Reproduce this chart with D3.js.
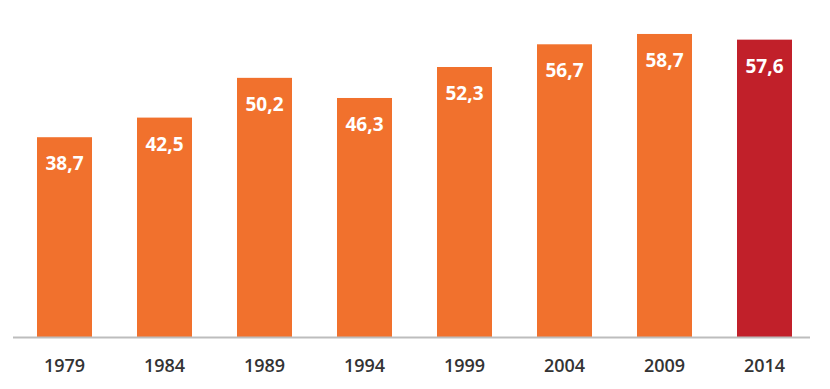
<!DOCTYPE html>
<html>
<head>
<meta charset="utf-8">
<script src="https://cdn.jsdelivr.net/npm/d3@7"></script>
<style>
  html, body { margin: 0; padding: 0; background: #fff; }
  svg { display: block; }
</style>
</head>
<body>
<svg id="chart" width="830" height="389"></svg>
<script>
const years = ["1979", "1984", "1989", "1994", "1999", "2004", "2009", "2014"];
const values = [38.7, 42.5, 50.2, 46.3, 52.3, 56.7, 58.7, 57.6];
const valueLabels = ["38,7", "42,5", "50,2", "46,3", "52,3", "56,7", "58,7", "57,6"];
const highlightYear = "2014";

const svg = d3.select("#chart");
const baseline = 337;

const x = d3.scaleBand()
  .domain(years)
  .range([14.5, 814.5])
  .paddingInner(0.45)
  .paddingOuter(0.225);

const y = d3.scaleLinear()
  .domain([0, 65.28])
  .range([baseline, 0]);

const data = years.map((yr, i) => ({ year: yr, value: values[i], label: valueLabels[i] }));

svg.selectAll("rect.bar")
  .data(data)
  .enter().append("rect")
  .attr("class", "bar")
  .attr("x", d => x(d.year))
  .attr("y", d => y(d.value))
  .attr("width", x.bandwidth())
  .attr("height", d => y(0) - y(d.value))
  .attr("fill", d => d.year === highlightYear ? "#C1202A" : "#F1712D");

svg.selectAll("text.val")
  .data(data)
  .enter().append("text")
  .attr("class", "val")
  .attr("x", d => x(d.year) + x.bandwidth() / 2)
  .attr("y", d => y(d.value) + 33)
  .attr("text-anchor", "middle")
  .attr("fill", "#fff")
  .style("font-family", "'Open Sans', sans-serif")
  .style("font-weight", "700")
  .style("font-size", "19px")
  .text(d => d.label);

const axis = d3.axisBottom(x).tickSize(0).tickPadding(22);
const g = svg.append("g")
  .attr("transform", `translate(0,${baseline})`)
  .call(axis);
g.select(".domain")
  .attr("d", "M13,0.5H810")
  .attr("stroke", "#BDBDBD")
  .attr("stroke-width", 2);
g.selectAll(".tick text")
  .attr("fill", "#333")
  .style("font-family", "'Open Sans', sans-serif")
  .style("font-weight", "600")
  .style("font-size", "18px");
</script>
</body>
</html>
